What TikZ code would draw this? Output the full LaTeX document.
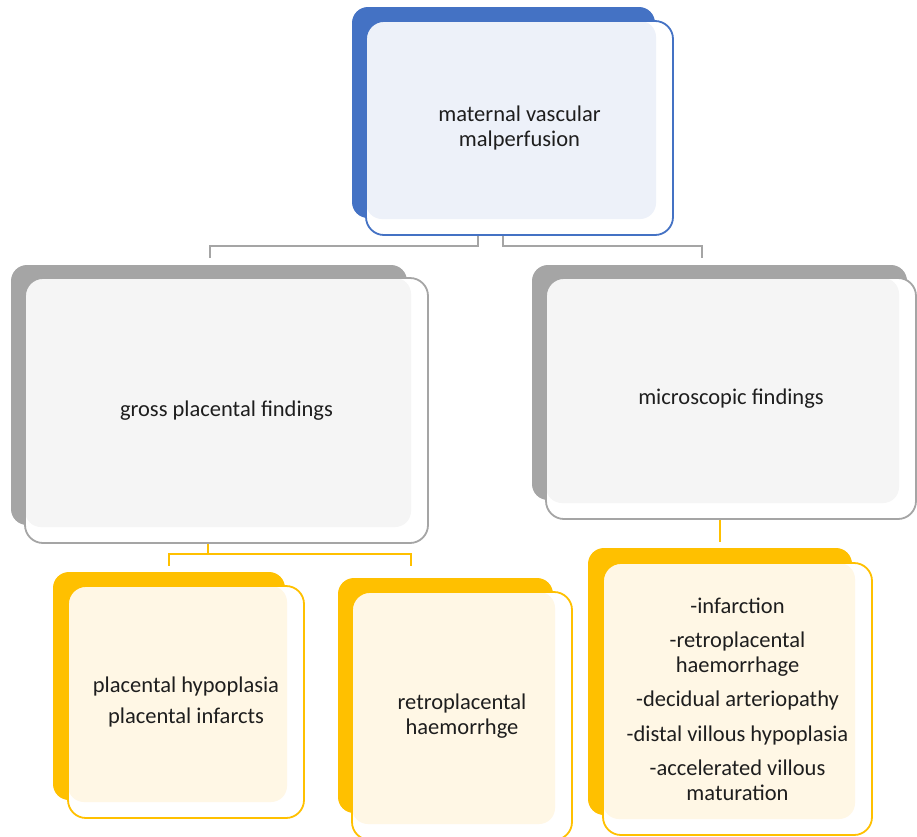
\documentclass[tikz,border=0pt]{standalone}
\usepackage{fontspec}
\setmainfont{Carlito}
\definecolor{cblue}{HTML}{4472C4}
\definecolor{cgray}{HTML}{A5A5A5}
\definecolor{cyel}{HTML}{FFC000}
\definecolor{fblue}{HTML}{EDF1F9}
\definecolor{fgray}{HTML}{F5F5F5}
\definecolor{fyel}{HTML}{FFF7E5}
\definecolor{ctext}{HTML}{1E1E1E}
\tikzset{
  front/.style 2 args={rectangle, rounded corners=18pt, draw=#1, fill=white,
    line width=1.8pt, inner sep=0pt, align=center, text=ctext,
    font=\fontsize{22.5}{24.5}\selectfont,
    path picture={\fill[#2, rounded corners=16pt]
      (path picture bounding box.north west) rectangle
      ([xshift=-17pt,yshift=16pt]path picture bounding box.south east);}},
  backbox/.style={rounded corners=16pt},
  gline/.style={draw=cgray, line width=2pt},
  yline/.style={draw=cyel, line width=2pt}
}
\begin{document}
\begin{tikzpicture}[x=1pt,y=-1pt]
\useasboundingbox (0,0) rectangle (917,836);

% back plates
\fill[cblue, backbox] (352,7) rectangle (655,218);
\fill[cgray, backbox] (11,265) rectangle (407,525);
\fill[cgray, backbox] (532,265) rectangle (907,500);
\fill[cyel, backbox] (53,572) rectangle (285,800);
\fill[cyel, backbox] (338,578) rectangle (553,813);
\fill[cyel, backbox] (588,548) rectangle (852,815);

% front boxes
\node[front={cblue}{fblue}, minimum width=307pt, minimum height=214pt] (top) at (519.5,128)
  {maternal vascular\\malperfusion};
\node[front={cgray}{fgray}, minimum width=403pt, minimum height=265pt] (gross) at (226.5,410.5)
  {gross placental findings};
\node[front={cgray}{fgray}, minimum width=370pt, minimum height=241pt] (micro) at (731,398.5)
  {microscopic findings};
\node[front={cyel}{fyel}, minimum width=236pt, minimum height=232pt] (b1) at (186,702)
  {placental hypoplasia\\[7pt]placental infarcts};
\node[front={cyel}{fyel}, minimum width=220pt, minimum height=248pt] (b2) at (462,716)
  {retroplacental\\haemorrhge};
\node[front={cyel}{fyel}, minimum width=269pt, minimum height=272pt] (b3) at (737.5,699)
  {-infarction\\[10pt]-retroplacental\\haemorrhage\\[10pt]-decidual arteriopathy\\[10pt]-distal villous hypoplasia\\[10pt]-accelerated villous\\maturation};

% connector end points
\coordinate (gin) at (210,258);
\coordinate (min) at (702,258);
\coordinate (b1in) at (169,566);
\coordinate (b2in) at (411,566);
\coordinate (b3in) at (720,542);

% connectors
\draw[gline] ([xshift=-41.5pt]top.south) -- ++(0,10) -| (gin);
\draw[gline] ([xshift=-16.5pt]top.south) -- ++(0,10) -| (min);
\draw[yline] ([xshift=-18.5pt]gross.south) -- ++(0,10) -| (b1in);
\draw[yline] ([xshift=-18.5pt]gross.south) -- ++(0,10) -| (b2in);
\draw[yline] ([xshift=-11pt]micro.south) -- (b3in);
\end{tikzpicture}
\end{document}
